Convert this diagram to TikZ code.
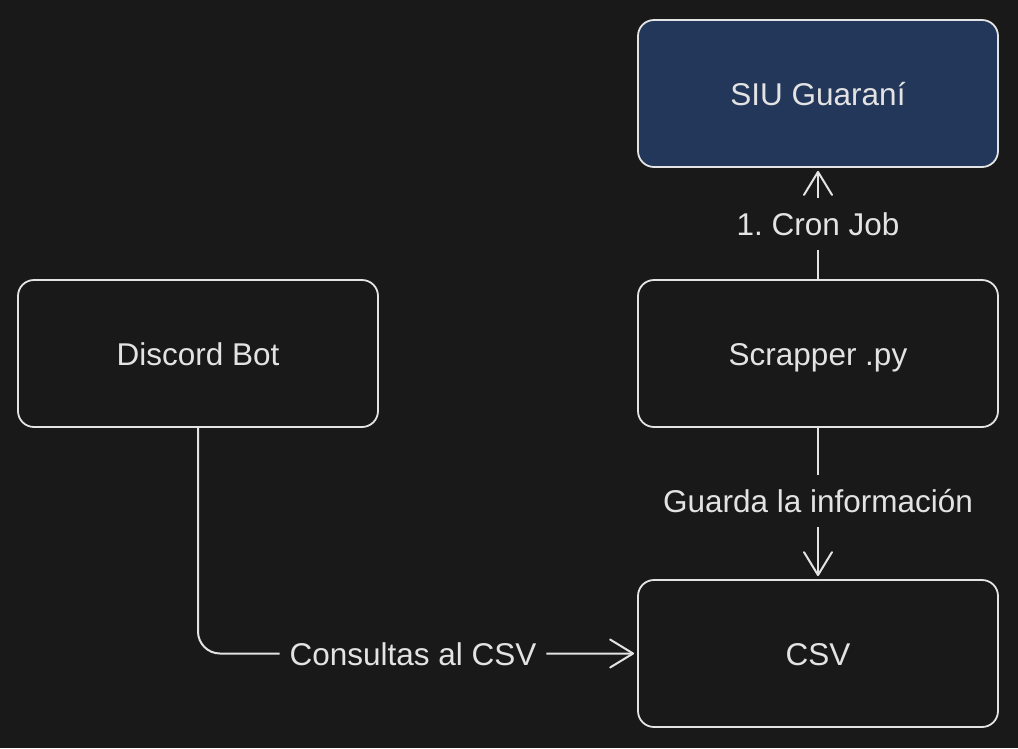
\documentclass[tikz,border=0pt]{standalone}
\usepackage{fontspec}
\setmainfont{Liberation Sans}
\usetikzlibrary{arrows.meta}
\definecolor{bgc}{HTML}{191919}
\definecolor{inkc}{HTML}{E3E3E3}
\definecolor{bluec}{HTML}{22375A}
\tikzset{
  txt/.style={text=inkc, font=\fontsize{31.5}{36}\selectfont\frenchspacing, text height=23pt, text depth=0pt},
  box/.style={txt, draw=inkc, line width=1.8pt, rounded corners=16pt, minimum width=360pt, minimum height=147pt, fill=bgc, inner sep=0pt},
  lbl/.style={txt, fill=bgc, inner sep=0pt, inner xsep=10pt, minimum height=52pt},
  conn/.style={draw=inkc, line width=2pt, line cap=round, line join=round, -{Straight Barb[length=23pt, width=28pt, line width=2pt, round]}},
}
\begin{document}
\begin{tikzpicture}[x=1pt, y=-1pt]
\fill[bgc] (0,0) rectangle (1018,748);
\useasboundingbox (0,0) rectangle (1018,748);
\node[box, fill=bluec] (siu) at (818,93.5) {SIU Guaraní};
\node[box] (disc) at (198,353.5) {Discord Bot};
\node[box] (scr) at (818,353.5) {Scrapper .py};
\node[box] (csv) at (818,653.5) {CSV};
\draw[conn] (scr.north) -- node[lbl, yshift=1.5pt] {1. Cron Job} ([yshift=-3pt]siu.south);
\draw[conn] (scr.south) -- node[lbl, yshift=1.5pt] {Guarda la información} ([yshift=3pt]csv.north);
\draw[conn, rounded corners=22pt] (disc.south) |- node[lbl, pos=0.75, xshift=-3pt] {Consultas al CSV} ([xshift=-3pt]csv.west);
\end{tikzpicture}
\end{document}
